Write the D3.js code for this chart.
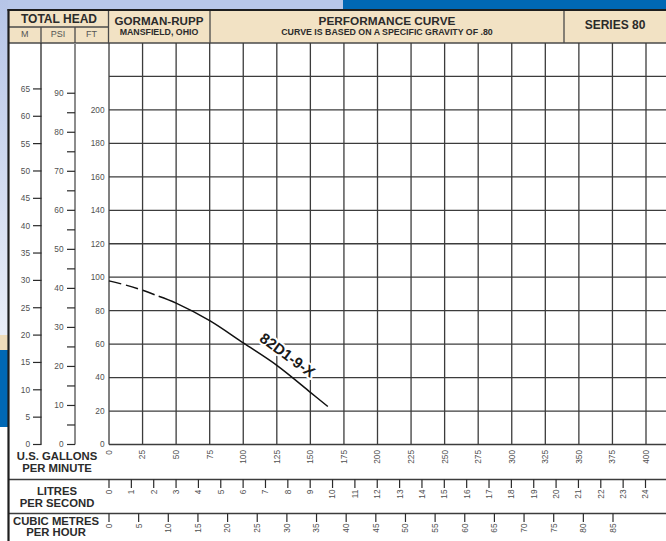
<!DOCTYPE html>
<html><head><meta charset="utf-8">
<script src="https://cdn.jsdelivr.net/npm/d3@7"></script>
<style>
html,body{margin:0;padding:0;background:#fff;}
svg{display:block;font-family:"Liberation Sans",Arial,sans-serif;}
</style></head>
<body>
<svg id="c" width="666" height="541"></svg>
<script>
// ---- data ----
const gpmTicks = [0,25,50,75,100,125,150,175,200,225,250,275,300,325,350,375,400];
const gpmGrid = [0,25,50,75,100,125,150,175,200,225,250,275,300,325,350,375,400,425];
const ftGrid = [0,20,40,60,80,100,120,140,160,180,200,220];
const ftLabels = [0,20,40,60,80,100,120,140,160,180,200];
const mTicks = [0,5,10,15,20,25,30,35,40,45,50,55,60,65];
const psiTicks = [0,5,10,15,20,25,30,35,40,45,50,55,60,65,70,75,80,85,90];
const psiLabels = [0,10,20,30,40,50,60,70,80,90];
const lpsTicks = [0,1,2,3,4,5,6,7,8,9,10,11,12,13,14,15,16,17,18,19,20,21,22,23,24];
const cmhTicks = [0,5,10,15,20,25,30,35,40,45,50,55,60,65,70,75,80,85];
// curve 82D1-9-X (gpm, ft)
const dashedGpm = [0,12,25,37];
const dashedFt  = [97.8,95.4,92.2,88.6];
const solidGpm  = [37,50,75,100,125,150,163];
const solidFt   = [88.6,84.5,74,60.7,47.3,31.2,22.7];
const curveName = "82D1-9-X";

// ---- scales ----
const x = d3.scaleLinear().domain([0,400]).range([109,646]);
const y = d3.scaleLinear().domain([0,240]).range([444.5,43]);
const M_TO_FT = 3.27, PSI_TO_FT = 2.333;
const lps = d3.scaleLinear().domain([0,24]).range([109,645.5]);
const cmh = d3.scaleLinear().domain([0,85]).range([109,613]);

const svg = d3.select("#c");
const defs = svg.append("defs");
const lg = defs.append("linearGradient").attr("id","lav").attr("x1",0).attr("y1",0).attr("x2",0).attr("y2",1);
lg.append("stop").attr("offset","0%").attr("stop-color","#b6c5e7");
lg.append("stop").attr("offset","100%").attr("stop-color","#eaeef8");

// background decoration
svg.append("rect").attr("x",0).attr("y",0).attr("width",343).attr("height",10).attr("fill","#b8c7e8");
svg.append("rect").attr("x",343).attr("y",0).attr("width",323).attr("height",10).attr("fill","#0068b5");
svg.append("rect").attr("x",0).attr("y",0).attr("width",8).attr("height",335).attr("fill","url(#lav)");
svg.append("rect").attr("x",0).attr("y",335).attr("width",8).attr("height",15).attr("fill","#efdcba");
svg.append("rect").attr("x",0).attr("y",350).attr("width",8).attr("height",77).attr("fill","#0068b5");

// header
const hdr = svg.append("g");
hdr.append("rect").attr("x",9).attr("y",10.5).attr("width",657).attr("height",32.5).attr("fill","#f2e2c4");
const hl = "#4a4a4a";
hdr.append("line").attr("x1",9).attr("x2",108.5).attr("y1",27).attr("y2",27).attr("stroke",hl).attr("stroke-width",1.3);
[41,75].forEach(v=>hdr.append("line").attr("x1",v).attr("x2",v).attr("y1",27).attr("y2",43).attr("stroke",hl).attr("stroke-width",1.3));
[108.5,210,564].forEach(v=>hdr.append("line").attr("x1",v).attr("x2",v).attr("y1",10.5).attr("y2",43).attr("stroke",hl).attr("stroke-width",1.3));
hdr.append("line").attr("x1",9).attr("x2",666).attr("y1",43).attr("y2",43).attr("stroke",hl).attr("stroke-width",1.5);

function txt(g,t,xx,yy,size,weight,fill,anchor){
  return g.append("text").attr("x",xx).attr("y",yy).attr("font-size",size).attr("font-weight",weight||"normal")
    .attr("fill",fill||"#2b2b2b").attr("text-anchor",anchor||"middle").text(t);
}
txt(hdr,"TOTAL HEAD",59,22.5,12,"bold");
txt(hdr,"M",24.7,36.5,9,"normal","#555");
txt(hdr,"PSI",58,36.5,9,"normal","#555");
txt(hdr,"FT",91.5,36.5,9,"normal","#555");
txt(hdr,"GORMAN-RUPP",159,25,11.6,"bold");
txt(hdr,"MANSFIELD, OHIO",159,34.5,8.8,"bold");
txt(hdr,"PERFORMANCE CURVE",387,25,11.8,"bold");
txt(hdr,"CURVE IS BASED ON A SPECIFIC GRAVITY OF .80",387,34.5,8.8,"bold");
txt(hdr,"SERIES 80",615,29,12,"bold");

// grid
const grid = svg.append("g").attr("stroke","#3c3c3c").attr("stroke-width",1.3);
grid.selectAll(".v").data(gpmGrid).join("line").attr("x1",d=>x(d)).attr("x2",d=>x(d)).attr("y1",43).attr("y2",y(0));
grid.selectAll(".h").data(ftGrid).join("line").attr("x1",x(0)).attr("x2",666).attr("y1",d=>y(d)).attr("y2",d=>y(d));

// M axis
const ax = svg.append("g");
ax.append("line").attr("x1",41).attr("x2",41).attr("y1",43).attr("y2",y(0)).attr("stroke","#2a2a2a").attr("stroke-width",1.3);
ax.selectAll(".mt").data(mTicks).join("line").attr("x1",33).attr("x2",41.5)
  .attr("y1",d=>y(d*M_TO_FT)).attr("y2",d=>y(d*M_TO_FT)).attr("stroke","#2a2a2a").attr("stroke-width",1.2);
ax.selectAll(".ml").data(mTicks).join("text").attr("x",30).attr("y",d=>y(d*M_TO_FT)).attr("dy","0.35em")
  .attr("text-anchor","end").attr("font-size",8.3).attr("fill","#505050").text(d=>d);
// PSI axis
ax.append("line").attr("x1",75).attr("x2",75).attr("y1",43).attr("y2",y(0)).attr("stroke","#8c8c8c").attr("stroke-width",2);
ax.selectAll(".pt").data(psiTicks).join("line").attr("x1",67).attr("x2",75)
  .attr("y1",d=>y(d*PSI_TO_FT)).attr("y2",d=>y(d*PSI_TO_FT)).attr("stroke","#2a2a2a").attr("stroke-width",1.2);
ax.selectAll(".pl").data(psiLabels).join("text").attr("x",63.5).attr("y",d=>y(d*PSI_TO_FT)).attr("dy","0.35em")
  .attr("text-anchor","end").attr("font-size",8.3).attr("fill","#505050").text(d=>d);
// FT labels
ax.selectAll(".fl").data(ftLabels).join("text").attr("x",104.5).attr("y",d=>y(d)).attr("dy","0.35em")
  .attr("text-anchor","end").attr("font-size",8.3).attr("fill","#505050").text(d=>d);

// bottom rows
const bot = svg.append("g");
[479.5,513.5].forEach(v=>bot.append("line").attr("x1",9).attr("x2",666).attr("y1",v).attr("y2",v).attr("stroke","#3c3c3c").attr("stroke-width",1.3));
txt(bot,"U.S. GALLONS",57,459.5,11.3,"bold");
txt(bot,"PER MINUTE",57,472,11.3,"bold");
txt(bot,"LITRES",57,495,11.3,"bold");
txt(bot,"PER SECOND",57,507,11.3,"bold");
txt(bot,"CUBIC METRES",56,524.5,11.3,"bold");
txt(bot,"PER HOUR",56,536,11.3,"bold");

bot.selectAll(".gl").data(gpmTicks).join("text")
  .attr("transform",d=>`translate(${x(d)},450) rotate(-90)`).attr("dy","0.35em")
  .attr("text-anchor","end").attr("font-size",8.3).attr("fill","#505050").text(d=>d);
bot.selectAll(".lt").data(lpsTicks).join("line").attr("x1",d=>lps(d)).attr("x2",d=>lps(d))
  .attr("y1",479.5).attr("y2",488).attr("stroke","#2a2a2a").attr("stroke-width",1.2);
bot.selectAll(".ll").data(lpsTicks).join("text")
  .attr("transform",d=>`translate(${lps(d)},489.5) rotate(-90)`).attr("dy","0.35em")
  .attr("text-anchor","end").attr("font-size",8.3).attr("fill","#505050").text(d=>d);
bot.selectAll(".ct").data(cmhTicks).join("line").attr("x1",d=>cmh(d)).attr("x2",d=>cmh(d))
  .attr("y1",513.5).attr("y2",522).attr("stroke","#2a2a2a").attr("stroke-width",1.2);
bot.selectAll(".cl").data(cmhTicks).join("text")
  .attr("transform",d=>`translate(${cmh(d)},523.5) rotate(-90)`).attr("dy","0.35em")
  .attr("text-anchor","end").attr("font-size",8.3).attr("fill","#505050").text(d=>d);

// frame
svg.append("line").attr("x1",8.5).attr("x2",8.5).attr("y1",9).attr("y2",541).attr("stroke","#1e1e1e").attr("stroke-width",2.2);
svg.append("line").attr("x1",7.5).attr("x2",666).attr("y1",10).attr("y2",10).attr("stroke","#1e1e1e").attr("stroke-width",2.2);

// curve
const line = d3.line().x(d=>x(d[0])).y(d=>y(d[1])).curve(d3.curveCatmullRom);
svg.append("path").attr("d",line(d3.zip(dashedGpm,dashedFt))).attr("fill","none").attr("stroke","#111")
  .attr("stroke-width",1.5).attr("stroke-dasharray","12.5,5");
svg.append("path").attr("d",line(d3.zip(solidGpm,solidFt))).attr("fill","none").attr("stroke","#111").attr("stroke-width",1.5);

// curve label
svg.append("text").attr("transform",`translate(${x(133)},${y(53.5)}) rotate(36)`).attr("dy","0.35em")
  .attr("text-anchor","middle").attr("font-size",15).attr("font-weight","bold").attr("fill","#1a1a1a")
  .attr("stroke","#fff").attr("stroke-width",4).attr("paint-order","stroke").attr("stroke-linejoin","round")
  .text(curveName);
</script>
</body></html>
